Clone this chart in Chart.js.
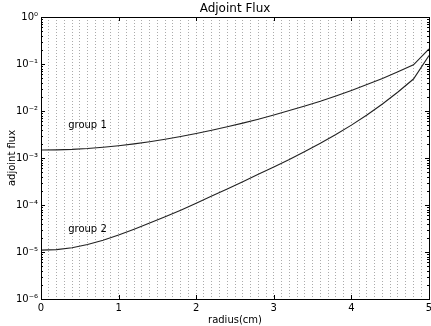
<!DOCTYPE html>
<html>
<head>
<meta charset="utf-8">
<script src="https://cdn.jsdelivr.net/npm/chart.js@4/dist/chart.umd.min.js"></script>
<style>
  html, body { margin: 0; padding: 0; background: #fff; }
  #wrap { width: 431px; height: 326px; }
</style>
</head>
<body>
<div id="wrap"><canvas id="fluxChart" width="431" height="326"></canvas></div>
<script>
// radius (cm) sample points
const radius = [0, 0.2, 0.4, 0.6, 0.8, 1.0, 1.2, 1.4, 1.6, 1.8, 2.0, 2.2, 2.4,
                2.6, 2.8, 3.0, 3.2, 3.4, 3.6, 3.8, 4.0, 4.2, 4.4, 4.6, 4.8, 5.0];

// adjoint flux
const group1 = [1.479e-3, 1.489e-3, 1.524e-3, 1.589e-3, 1.687e-3, 1.820e-3, 1.995e-3,
                2.218e-3, 2.500e-3, 2.858e-3, 3.311e-3, 3.882e-3, 4.603e-3, 5.521e-3,
                6.699e-3, 8.222e-3, 1.021e-2, 1.282e-2, 1.614e-2, 2.080e-2, 2.742e-2,
                3.656e-2, 4.932e-2, 6.808e-2, 9.616e-2, 0.209];
const group2 = [1.096e-5, 1.122e-5, 1.230e-5, 1.445e-5, 1.778e-5, 2.291e-5, 3.055e-5,
                4.121e-5, 5.623e-5, 7.762e-5, 1.096e-4, 1.549e-4, 2.198e-4, 3.141e-4,
                4.498e-4, 6.457e-4, 9.333e-4, 1.380e-3, 2.065e-3, 3.162e-3, 5.012e-3,
                8.222e-3, 1.413e-2, 2.541e-2, 4.786e-2, 0.1514];

const yTicks = [1e-6, 1e-5, 1e-4, 1e-3, 1e-2, 1e-1, 1];
const yTickLabels = ['10⁻⁶', '10⁻⁵', '10⁻⁴', '10⁻³', '10⁻²', '10⁻¹', '10⁰'];
const xTicks = [0, 1, 2, 3, 4, 5];

// text notes placed in data coordinates
const noteLabels = ['group 1', 'group 2'];
const noteX = [0.35, 0.35];
const noteY = [4.4e-3, 2.7e-5];

const toPoints = (xs, ys) => xs.map((x, i) => ({ x: x, y: ys[i] }));

// frame, inward ticks, title and notes (matplotlib look)
const framePlugin = {
    id: 'frame',
    afterDatasetsDraw(chart) {
        const ctx = chart.ctx;
        const area = chart.chartArea;
        const xs = chart.scales.x;
        const ys = chart.scales.y;

        ctx.save();
        ctx.strokeStyle = '#000';
        ctx.lineWidth = 1;
        ctx.beginPath();

        // x major ticks, top and bottom
        xTicks.forEach(v => {
            const px = Math.round(xs.getPixelForValue(v)) + 0.5;
            ctx.moveTo(px, area.bottom);
            ctx.lineTo(px, area.bottom - 4);
            ctx.moveTo(px, area.top);
            ctx.lineTo(px, area.top + 4);
        });

        // y major and minor ticks, left and right
        yTicks.forEach((v, i) => {
            const py = Math.round(ys.getPixelForValue(v)) + 0.5;
            ctx.moveTo(area.left, py);
            ctx.lineTo(area.left + 4, py);
            ctx.moveTo(area.right, py);
            ctx.lineTo(area.right - 4, py);
            if (i < yTicks.length - 1) {
                for (let m = 2; m <= 9; m++) {
                    const pm = Math.round(ys.getPixelForValue(v * m)) + 0.5;
                    ctx.moveTo(area.left, pm);
                    ctx.lineTo(area.left + 2, pm);
                    ctx.moveTo(area.right, pm);
                    ctx.lineTo(area.right - 2, pm);
                }
            }
        });
        ctx.stroke();

        ctx.strokeRect(Math.round(area.left) + 0.5, Math.round(area.top) + 0.5,
                       Math.round(area.right - area.left), Math.round(area.bottom - area.top));

        // notes
        ctx.fillStyle = '#000';
        ctx.font = '10px "DejaVu Sans"';
        ctx.textAlign = 'left';
        ctx.textBaseline = 'alphabetic';
        noteLabels.forEach((t, i) => {
            ctx.fillText(t, xs.getPixelForValue(noteX[i]), ys.getPixelForValue(noteY[i]));
        });

        // title centred over the axes
        ctx.font = '12px "DejaVu Sans"';
        ctx.textAlign = 'center';
        ctx.textBaseline = 'middle';
        ctx.fillText('Adjoint Flux', (area.left + area.right) / 2, 9);
        ctx.restore();
    }
};

Chart.defaults.font.family = '"DejaVu Sans", sans-serif';
Chart.defaults.color = '#000';

new Chart(document.getElementById('fluxChart'), {
    type: 'line',
    data: {
        datasets: [{
            label: 'group 1',
            data: toPoints(radius, group1),
            borderColor: '#222',
            borderWidth: 1.1,
            pointRadius: 0,
            tension: 0
        }, {
            label: 'group 2',
            data: toPoints(radius, group2),
            borderColor: '#222',
            borderWidth: 1.1,
            pointRadius: 0,
            tension: 0
        }]
    },
    options: {
        responsive: false,
        animation: false,
        devicePixelRatio: 1,
        layout: {
            padding: { top: 17, right: 2, left: 0, bottom: 0 }
        },
        plugins: {
            legend: { display: false },
            tooltip: { enabled: false },
            title: { display: false }
        },
        scales: {
            x: {
                type: 'linear',
                min: 0,
                max: 5,
                afterBuildTicks: scale => {
                    const t = [];
                    for (let k = 0; k <= 50; k++) t.push({ value: k / 10 });
                    scale.ticks = t;
                },
                afterFit: scale => {
                    scale.height = 27;
                    scale.paddingLeft = 0;
                    scale.paddingRight = 0;
                },
                grid: {
                    color: 'rgba(0,0,0,0.33)',
                    lineWidth: 1,
                    drawTicks: false
                },
                border: { display: false, dash: [1, 2] },
                ticks: {
                    autoSkip: false,
                    maxRotation: 0,
                    padding: 3,
                    font: { size: 10 },
                    callback: v => (Number.isInteger(v) && xTicks.includes(v)) ? String(v) : ''
                },
                title: {
                    display: true,
                    text: 'radius(cm)',
                    font: { size: 10 },
                    padding: { top: 0, bottom: 0 }
                }
            },
            y: {
                type: 'logarithmic',
                min: 1e-6,
                max: 1,
                afterBuildTicks: scale => {
                    scale.ticks = yTicks.map(v => ({ value: v }));
                },
                afterFit: scale => {
                    scale.width = 41;
                    scale.paddingTop = 0;
                    scale.paddingBottom = 0;
                },
                grid: {
                    drawOnChartArea: false,
                    drawTicks: false
                },
                border: { display: false },
                ticks: {
                    autoSkip: false,
                    padding: 3,
                    font: { size: 10 },
                    callback: (v, i) => yTickLabels[i]
                },
                title: {
                    display: true,
                    text: 'adjoint flux',
                    font: { size: 10 },
                    padding: { top: 6, bottom: 0 }
                }
            }
        }
    },
    plugins: [framePlugin]
});
</script>
</body>
</html>
